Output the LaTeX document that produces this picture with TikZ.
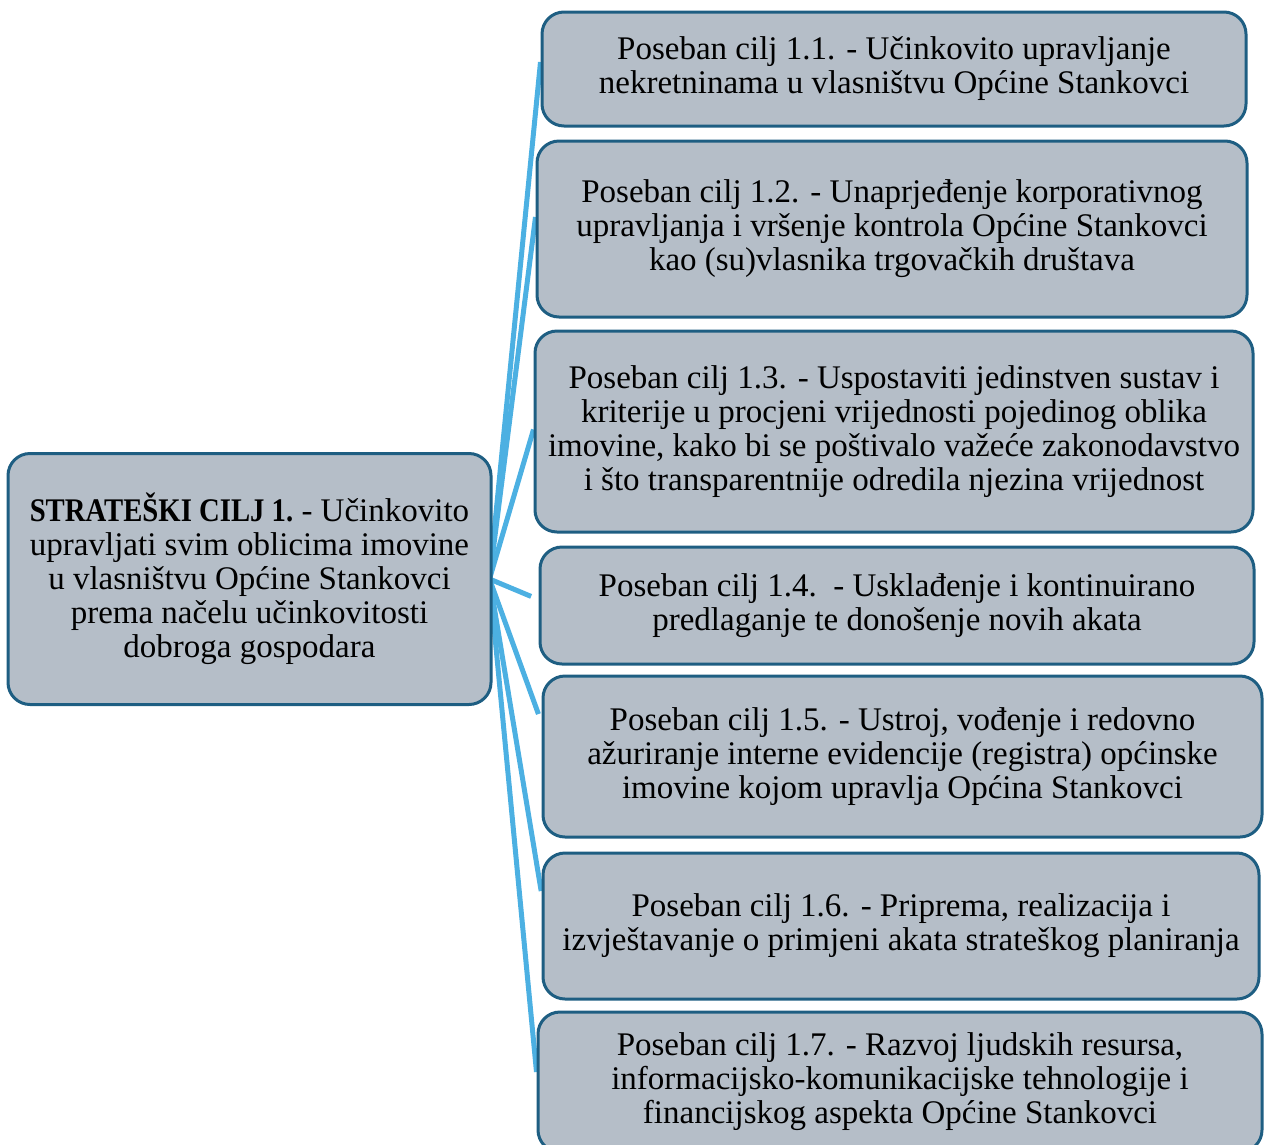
\documentclass[tikz,border=0pt]{standalone}
\usepackage{fontspec}
\setmainfont{Liberation Serif}
\usetikzlibrary{backgrounds}
\definecolor{boxfill}{RGB}{181,190,200}
\definecolor{boxdraw}{RGB}{30,94,130}
\definecolor{linkc}{RGB}{76,176,226}
\tikzset{
  goalbox/.style={draw=boxdraw, fill=boxfill, line width=3pt, rounded corners=22pt,
    align=center, inner sep=0pt, font=\fontsize{33}{34}\selectfont},
  link/.style={draw=linkc, line width=5pt}
}
\begin{document}
\begin{tikzpicture}[x=1pt,y=-1pt]
\useasboundingbox (0,0) rectangle (1264,1144);
\clip (0,0) rectangle (1264,1144);
\node[goalbox, minimum width=483pt, minimum height=251pt] (L) at (249.5,579)
 {\scalebox{0.87}[1]{\textbf{STRATEŠKI CILJ 1.}} - Učinkovito\\ upravljati svim oblicima imovine\\ u vlasništvu Općine Stankovci\\ prema načelu učinkovitosti\\ dobroga gospodara};
\node[goalbox, minimum width=704pt, minimum height=114pt] (b1) at (894,69)
 {Poseban cilj 1.1. - Učinkovito upravljanje\\ nekretninama u vlasništvu Općine Stankovci};
\node[goalbox, minimum width=710pt, minimum height=176pt] (b2) at (892,229)
 {Poseban cilj 1.2. - Unaprjeđenje korporativnog\\ upravljanja i vršenje kontrola Općine Stankovci\\ kao (su)vlasnika trgovačkih društava};
\node[goalbox, minimum width=718pt, minimum height=201pt] (b3) at (894,431.5)
 {Poseban cilj 1.3. - Uspostaviti jedinstven sustav i\\ kriterije u procjeni vrijednosti pojedinog oblika\\ imovine, kako bi se poštivalo važeće zakonodavstvo\\ i što transparentnije odredila njezina vrijednost};
\node[goalbox, minimum width=714pt, minimum height=117pt] (b4) at (897,605.5)
 {Poseban cilj 1.4.\ \ - Usklađenje i kontinuirano\\ predlaganje te donošenje novih akata};
\node[goalbox, minimum width=719pt, minimum height=161pt] (b5) at (902.5,756.5)
 {Poseban cilj 1.5. - Ustroj, vođenje i redovno\\ ažuriranje interne evidencije (registra) općinske\\ imovine kojom upravlja Općina Stankovci};
\node[goalbox, minimum width=716pt, minimum height=146pt] (b6) at (901,926)
 {Poseban cilj 1.6. - Priprema, realizacija i\\ izvještavanje o primjeni akata strateškog planiranja};
\node[goalbox, minimum width=724pt, minimum height=140pt] (b7) at (900,1082)
 {Poseban cilj 1.7. - Razvoj ljudskih resursa,\\ informacijsko-komunikacijske tehnologije i\\ financijskog aspekta Općine Stankovci};
\begin{scope}[on background layer]
\draw[link] ([xshift=-3pt]L.east) -- ([yshift=7pt]b1.west);
\draw[link] ([xshift=-3pt]L.east) -- ([yshift=12pt]b2.west);
\draw[link] ([xshift=-3pt]L.east) -- ([yshift=2pt]b3.west);
\draw[link, shorten >=8pt] ([xshift=-3pt]L.east) -- ([yshift=6pt]b4.west);
\draw[link, shorten >=9pt] ([xshift=-3pt]L.east) -- ([yshift=34pt]b5.west);
\draw[link, shorten >=2pt] ([xshift=-3pt]L.east) -- ([yshift=33pt]b6.west);
\draw[link] ([xshift=-3pt]L.east) -- ([yshift=10pt]b7.west);
\end{scope}
\end{tikzpicture}
\end{document}
